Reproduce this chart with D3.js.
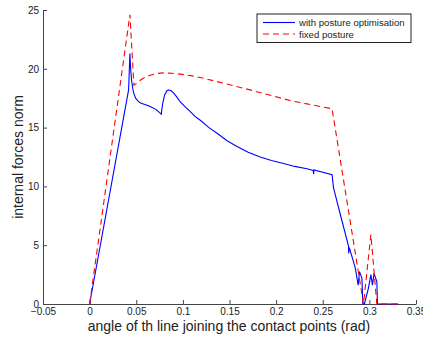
<!DOCTYPE html>
<html>
<head>
<meta charset="utf-8">
<script src="https://cdn.jsdelivr.net/npm/d3@7"></script>
<style>
  body { margin: 0; background: #fff; }
  text { font-family: "Liberation Sans", Arial, sans-serif; fill: #222; }
</style>
</head>
<body>
<div id="main"></div>
<script>
const ctx = {
    CHART_WIDTH: 423,
    CHART_HEIGHT: 341,
    left: 43, right: 416, top: 10, bottom: 304
};

// values
const seriesNames = ["with posture optimisation", "fixed posture"];
const xTicks = [-0.05, 0, 0.05, 0.1, 0.15, 0.2, 0.25, 0.3, 0.35];
const yTicks = [0, 5, 10, 15, 20, 25];

const optimX = [0, 0.0418, 0.0432, 0.0437, 0.0442, 0.045, 0.0457, 0.047, 0.0493, 0.052, 0.0546,
    0.060, 0.065, 0.071, 0.077, 0.0775, 0.0785, 0.0805, 0.083, 0.0849, 0.087, 0.090, 0.094,
    0.097, 0.102, 0.108, 0.113, 0.119, 0.128, 0.137, 0.147, 0.158, 0.170, 0.183, 0.195,
    0.208, 0.220, 0.233, 0.2398, 0.2402, 0.2406, 0.260, 0.2615, 0.2705, 0.2777, 0.2778,
    0.2785, 0.2848, 0.288, 0.2894, 0.292, 0.293, 0.2947, 0.299, 0.3016, 0.3033, 0.305,
    0.308, 0.3087, 0.331];
const optimY = [0, 18.2, 21.3, 20.4, 19.8, 19.0, 18.6, 18.0, 17.5, 17.25, 17.1,
    16.95, 16.8, 16.55, 16.15, 16.6, 17.1, 17.8, 18.15, 18.2, 18.15, 17.95, 17.55,
    17.2, 16.8, 16.35, 15.95, 15.6, 15.0, 14.5, 13.9, 13.4, 12.9, 12.5, 12.2,
    11.95, 11.7, 11.5, 11.35, 11.05, 11.4, 11.0, 9.9, 7.1, 4.9, 4.3,
    4.8, 3.1, 1.6, 2.75, 2.2, 0, 0, 1.35, 2.5, 1.6, 2.6,
    1.9, 0, 0];

const fixedX = [0, 0.0432, 0.0475, 0.051, 0.0546, 0.060, 0.065, 0.072, 0.079, 0.088, 0.097,
    0.110, 0.122, 0.170, 0.215, 0.260, 0.2937, 0.3016, 0.308, 0.331];
const fixedY = [0, 24.6, 18.6, 18.8, 19.05, 19.3, 19.45, 19.6, 19.65, 19.62, 19.55,
    19.4, 19.2, 18.25, 17.3, 16.6, 0, 5.9, 0, 0];

function drawChart(){
    let g = d3.select("#mainG");

    ctx.xScale = d3.scaleLinear().domain([-0.05, 0.35]).range([ctx.left, ctx.right]);
    ctx.yScale = d3.scaleLinear().domain([0, 25]).range([ctx.bottom, ctx.top]);

    // axes, ticks pointing inward like matlab
    let xAx = g.append("g")
      .attr("transform", `translate(0,${ctx.bottom})`)
      .call(d3.axisBottom(ctx.xScale).tickValues(xTicks)
              .tickFormat(d3.format("~g")).tickSizeInner(-4).tickSizeOuter(0).tickPadding(4));
    let yAx = g.append("g")
      .attr("transform", `translate(${ctx.left},0)`)
      .call(d3.axisLeft(ctx.yScale).tickValues(yTicks)
              .tickSizeInner(-4).tickSizeOuter(0).tickPadding(4));
    [xAx, yAx].forEach(a => {
        a.select(".domain").attr("stroke", "#444");
        a.selectAll(".tick line").attr("stroke", "#444");
        a.selectAll("text").style("font-size", "10px")
         .style("font-family", "Liberation Sans, Arial, sans-serif").attr("fill", "#222");
    });

    g.append("text")
      .attr("x", (ctx.left + ctx.right) / 2 - 0.5)
      .attr("y", 331)
      .style("text-anchor", "middle")
      .style("font-size", "14px")
      .text("angle of th line joining the contact points (rad)");

    g.append("text")
      .attr("transform", `translate(23,${(ctx.top + ctx.bottom) / 2}) rotate(-90)`)
      .style("text-anchor", "middle")
      .style("font-size", "14px")
      .text("internal forces norm");

    let line = d3.line()
        .x(d => ctx.xScale(d[0]))
        .y(d => ctx.yScale(d[1]));

    g.append("path")
        .datum(d3.zip(optimX, optimY))
        .attr("fill", "none")
        .attr("stroke", "#0000ff")
        .attr("stroke-width", 1.1)
        .attr("d", line);

    g.append("path")
        .datum(d3.zip(fixedX, fixedY))
        .attr("fill", "none")
        .attr("stroke", "#ff0000")
        .attr("stroke-width", 1.1)
        .attr("stroke-dasharray", "6,4")
        .attr("d", line);

    // legend
    let lg = g.append("g").attr("transform", "translate(257,14)");
    lg.append("rect")
      .attr("width", 154).attr("height", 28.5)
      .attr("fill", "#fff").attr("stroke", "#222").attr("stroke-width", 1);
    const styles = [{c: "#0000ff", dash: null}, {c: "#ff0000", dash: "6,4"}];
    seriesNames.forEach((name, i) => {
        let yy = 8.5 + i * 11.5;
        lg.append("line")
          .attr("x1", 6).attr("x2", 38).attr("y1", yy).attr("y2", yy)
          .attr("stroke", styles[i].c).attr("stroke-width", 1.1)
          .attr("stroke-dasharray", styles[i].dash);
        lg.append("text")
          .attr("x", 42).attr("y", yy + 3.5)
          .style("font-size", "9.6px")
          .text(name);
    });
}

function createViz(){
    var svgEl = d3.select("#main").append("svg");
    svgEl.attr("width", ctx.CHART_WIDTH);
    svgEl.attr("height", ctx.CHART_HEIGHT);
    svgEl.append("g").attr("id", "mainG");
    drawChart();
}

createViz();
</script>
</body>
</html>
